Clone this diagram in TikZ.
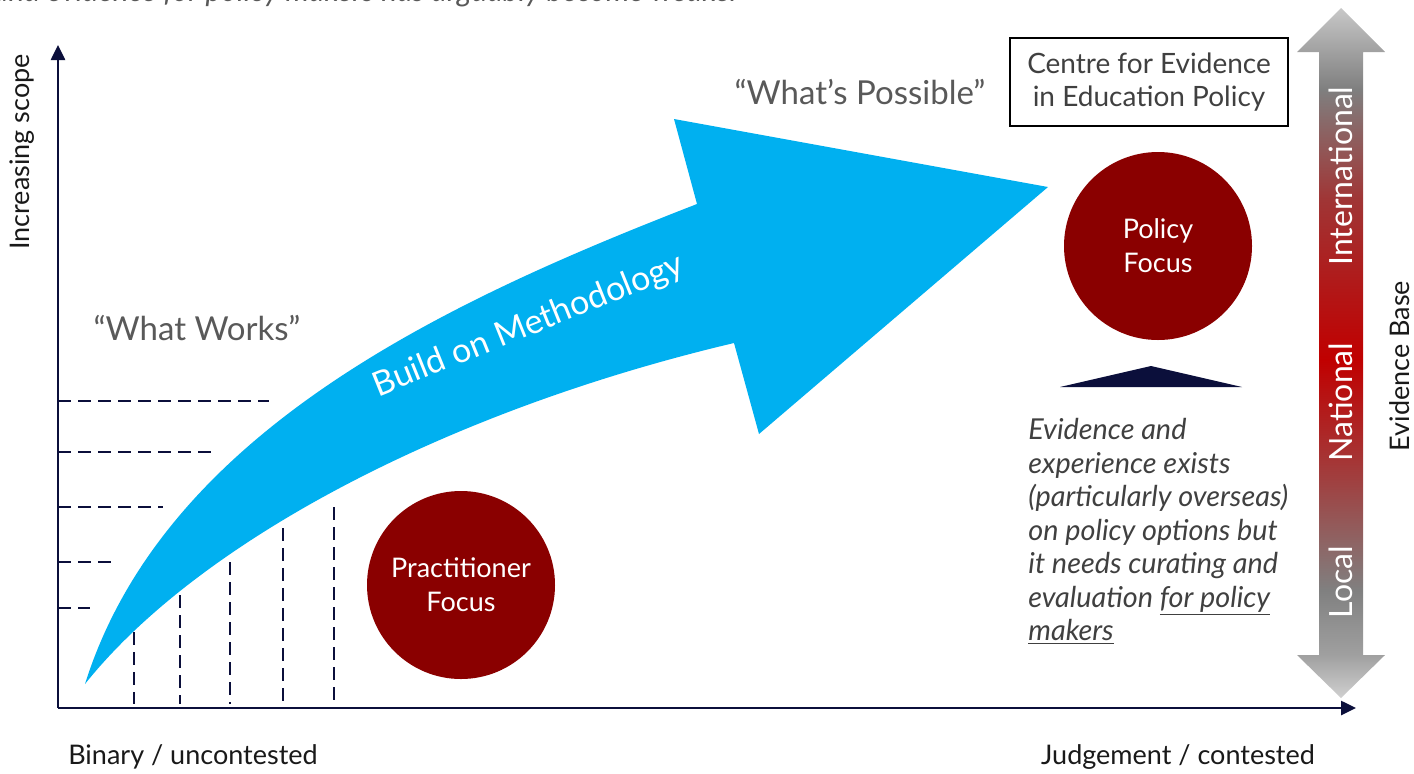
\documentclass[tikz,border=0pt]{standalone}
\usepackage{fontspec}
\setmainfont{Lato}
\usetikzlibrary{arrows.meta}

\definecolor{navy}{HTML}{0B0F3B}
\definecolor{darkred}{HTML}{8A0000}
\definecolor{skyblue}{HTML}{00B0F0}
\definecolor{quotegray}{HTML}{595959}
\definecolor{textgray}{HTML}{404040}
\definecolor{ebA}{HTML}{D0D0D0}
\definecolor{ebB}{HTML}{A0A0A0}
\definecolor{ebC}{HTML}{7F7F7F}
\definecolor{ebD}{HTML}{A03535}
\definecolor{ebE}{HTML}{C00000}
\definecolor{ebF}{HTML}{A04040}
\definecolor{ebG}{HTML}{808080}
\definecolor{ebH}{HTML}{A0A0A0}
\definecolor{ebI}{HTML}{C8C8C8}
\pgfdeclareverticalshading{evidencebase}{100bp}{color(0bp)=(ebA); color(25bp)=(ebA); color(28.1bp)=(ebB); color(32.8bp)=(ebG); color(40.8bp)=(ebF); color(49.5bp)=(ebE); color(61.1bp)=(ebD); color(69.1bp)=(ebC); color(71.8bp)=(ebH); color(75bp)=(ebI); color(100bp)=(ebI)}

\begin{document}
\begin{tikzpicture}[x=0.5pt,y=-0.5pt,
	axis/.style={draw=navy,line width=1.3pt,-{Triangle[length=7.5pt,width=7pt]}},
	guide/.style={draw=navy,line width=1.2pt,dash pattern=on 6.5pt off 3.5pt},
	focus/.style={shape=circle,fill=darkred,text=white,minimum size=94pt,inner sep=0pt,align=center,font=\fontsize{13.5}{17}\selectfont},
	axislabel/.style={text=black!90,font=\fontsize{13.5}{16}\selectfont},
	quote/.style={text=quotegray,font=\fontsize{16.5}{20}\selectfont},
	level/.style={text=white,rotate=90,font=\fontsize{16}{19}\selectfont}]
	
	\useasboundingbox (0,0) rectangle (1414,773);
	
	\node[anchor=base east,text=quotegray,font=\fontsize{15}{17}\selectfont\itshape] (lead) at (747,1) {and evidence for policy makers has arguably become weaker};
	
	\coordinate (origin) at (58,708);
	\coordinate (ytip) at (58,45);
	\coordinate (xtip) at (1356,708);
	\draw[axis] (origin) -- (ytip);
	\draw[axis] (origin) -- (xtip);
	
	\draw[guide] (58,401) -- (269,401);
	\draw[guide] (58,452) -- (218,452);
	\draw[guide] (58,507) -- (163,507);
	\draw[guide] (58,562) -- (118,562);
	\draw[guide] (58,608) -- (90,608);
	\draw[guide] (134,632) -- (134,704);
	\draw[guide] (180,595) -- (180,704);
	\draw[guide] (230,562) -- (230,704);
	\draw[guide] (283,528) -- (283,704);
	\draw[guide] (334,507) -- (334,704);
	
	\fill[skyblue] (85,684) .. controls (165,430) and (450,300) .. (697,204) -- (674,119) -- (1048,187) -- (759,434) -- (734,343) .. controls (450,410) and (200,540) .. (85,684) -- cycle;
	\node[anchor=base,rotate=22,text=white,font=\fontsize{17}{20}\selectfont] (method) at (532,335) {Build on Methodology};
	
	\node[rotate=90,axislabel] (scope) at (22,152) {Increasing scope};
	\node[quote] (works) at (197,328) {“What Works”};
	\node[quote] (possible) at (860,92) {“What’s Possible”};
	\node[draw=black,line width=1pt,minimum width=139pt,minimum height=44pt,align=center,text=textgray,font=\fontsize{14}{16.5}\selectfont] (centre) at (1149,82) {Centre for Evidence\\in Education Policy};
	
	\node[focus] (practitioner) at (461,585) {Practitioner\\Focus};
	\node[focus] (policy) at (1158,246) {Policy\\Focus};
	\fill[navy] (1060,387) -- (1151,366) -- (1242,387) -- cycle;
	
	\node[anchor=north west,inner sep=0pt,align=left,text=textgray,font=\fontsize{14.4}{16.75}\selectfont\itshape] (note) at (1028,418) {Evidence and\\experience exists\\(particularly overseas)\\on policy options but\\it needs curating and\\evaluation \underline{for policy}\\\underline{makers}};
	
	\shade[shading=evidencebase] (1341,8) -- (1385,52) -- (1363,52) -- (1363,655) -- (1385,655) -- (1341,698) -- (1297,655) -- (1319,655) -- (1319,52) -- (1297,52) -- cycle;
	\node[level] (international) at (1341,176) {International};
	\node[level] (national) at (1341,402) {National};
	\node[level] (local) at (1341,582) {Local};
	\node[rotate=90,axislabel] (base) at (1400,366) {Evidence Base};
	
	\node[axislabel] (binary) at (193,757) {Binary / uncontested};
	\node[axislabel] (judgement) at (1178,757) {Judgement / contested};
\end{tikzpicture}
\end{document}
